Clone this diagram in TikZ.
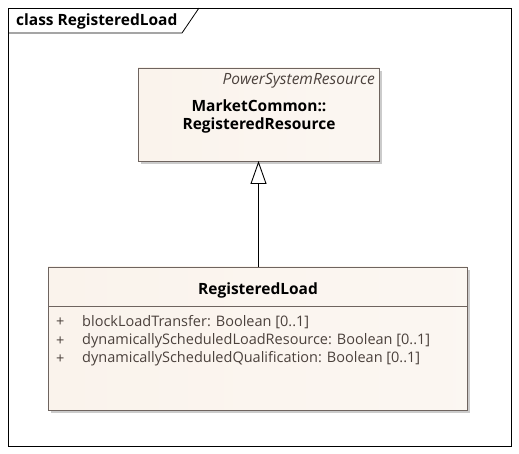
\documentclass[tikz,border=0pt]{standalone}
\usepackage{fontspec}
\setmainfont{Open Sans}
\usetikzlibrary{arrows.meta,shadows}
\definecolor{boxfill}{RGB}{250,243,236}
\definecolor{boxedge}{RGB}{110,100,95}
\definecolor{attrtext}{RGB}{75,65,60}
\definecolor{shadowc}{RGB}{190,190,190}
\tikzset{
  umlbox/.style={draw=boxedge, line width=0.8pt, left color=boxfill, right color=boxfill!70!white,
    drop shadow={shadow xshift=3pt, shadow yshift=-3pt, fill=shadowc, opacity=0.8}},
  lbl/.style={inner sep=0pt, font=\fontsize{15.5}{17}\selectfont\bfseries},
  attr/.style={inner sep=0pt, anchor=west, text=attrtext, font=\fontsize{14.5}{16}\selectfont},
}
\begin{document}
\begin{tikzpicture}[x=1pt,y=-1pt]
\useasboundingbox[fill=white] (0,0) rectangle (519,454);
\draw[line width=0.8pt] (8,8) rectangle (511,446);
\draw[line width=0.8pt] (8,33) -- (182,33) -- (199,8);
\node[lbl, anchor=west] (title) at (16,21) {class RegisteredLoad};

% upper class
\path[umlbox] (138,68) rectangle (379,161);
\coordinate (upbot) at (258.5,161);
\node[lbl, anchor=east, font=\fontsize{15.5}{17}\selectfont\itshape, text=attrtext] (stereo) at (375,81) {PowerSystemResource};
\node[lbl] (up1) at (259,106) {MarketCommon::};
\node[lbl] (up2) at (259,125) {RegisteredResource};

% lower class
\path[umlbox] (48,267) rectangle (467,410);
\draw[boxedge, line width=0.6pt] (48,306) -- (467,306);
\coordinate (lowtop) at (258.5,267);
\node[lbl] (low) at (258,290) {RegisteredLoad};
\node[attr] (p1) at (56,322) {+};
\node[attr] (p2) at (56,341) {+};
\node[attr] (p3) at (56,359) {+};
\node[attr] (a1) at (82,322) {blockLoadTransfer: Boolean [0..1]};
\node[attr] (a2) at (82,341) {dynamicallyScheduledLoadResource: Boolean [0..1]};
\node[attr] (a3) at (82,359) {dynamicallyScheduledQualification: Boolean [0..1]};

% generalization
\draw[line width=0.9pt, -{Triangle[open, width=16pt, length=23pt, line width=0.9pt]}] (lowtop) -- (upbot);
\end{tikzpicture}
\end{document}
